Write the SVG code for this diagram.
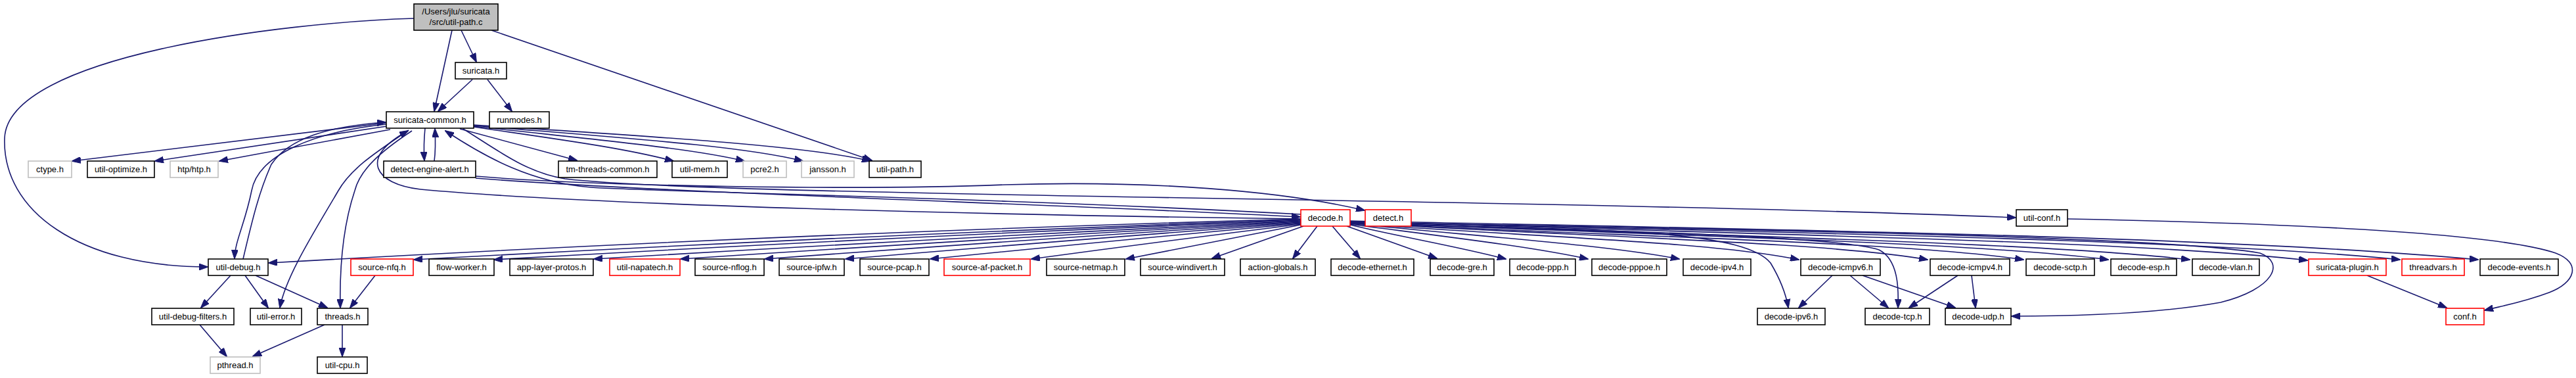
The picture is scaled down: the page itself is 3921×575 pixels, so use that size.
<svg xmlns="http://www.w3.org/2000/svg" width="3921" height="575" viewBox="0 0 3921 575">
<style>
.n rect{fill:#fff;stroke:#000;stroke-width:1.6}
.n.g rect{stroke:#bfbfbf}
.n.r rect{stroke:#ff0000}
.n.root rect{fill:#bfbfbf}
.n text{font-family:"Liberation Sans",Arial,sans-serif;font-size:13px;text-anchor:middle;fill:#000}
#edges path{fill:none;stroke:#191970;stroke-width:1.6;marker-end:url(#a)}
#edges path.nm{marker-end:none}
</style>
<defs>
<marker id="a" markerWidth="14" markerHeight="10" refX="13" refY="5" orient="auto" markerUnits="userSpaceOnUse"><path d="M0,0 L14,5 L0,10 z" fill="#191970" stroke="#191970" stroke-width="1"/></marker>
</defs>
<rect width="3921" height="575" fill="#fff"/>
<g id="edges">
<path d="M688,46 L661,169"/>
<path d="M702,46 L725,94"/>
<path d="M748,46 L1327,244"/>
<path d="M630,28 C430,34 12,85 7,210 C3,320 120,406 316,406"/>
<path d="M719,121 L667,169"/>
<path d="M742,121 L779,169"/>
<path d="M587,187 L110,245"/>
<path d="M589,192 L236,245"/>
<path d="M594,197 L334,245"/>
<path d="M647,195 C645,215 645,230 646,244"/>
<path d="M661,245 C663,230 663,215 662,196"/>
<path d="M700,196 L878,244"/>
<path d="M721,193 C850,212 950,225 1025,245"/>
<path d="M721,192 C900,212 1050,225 1133,245"/>
<path d="M721,191 C950,210 1130,222 1222,245"/>
<path d="M721,190 C1000,208 1230,222 1325,245"/>
<path d="M588,189 C480,200 393,235 383,290 C373,340 358,365 357,393"/>
<path d="M370,394 C385,330 395,290 413,250 C440,210 500,192 587,186"/>
<path d="M622,198 C575,230 535,255 515,290 C480,350 435,420 426,468"/>
<path d="M627,199 C580,230 548,258 540,290 C520,350 517,420 518,468"/>
<path d="M351,419 L306,468"/>
<path d="M373,419 L408,468"/>
<path d="M389,419 L498,468"/>
<path d="M571,419 L533,468"/>
<path d="M304,494 L345,542"/>
<path d="M494,494 L385,542"/>
<path d="M521,494 L521,542"/>
<path d="M724,268 C900,283 1300,290 1530,281 C1750,274 1950,290 2077,320"/>
<path d="M724,271 C1000,293 1600,310 1979,330"/>
<path d="M705,196 C760,230 800,262 860,272 C1100,300 2300,300 3068,331"/>
<path d="M1980,326 C1500,300 1000,292 900,285 C810,278 740,240 678,199"/>
<path d="M1980,333 C1500,327 900,312 640,288 C570,280 545,240 621,199"/>
<path d="M1980,333 Q1200,355 409,400"/>
<path d="M1980,334 Q1300,358 630,395"/>
<path d="M1980,335 Q1360,360 752,395"/>
<path d="M1980,336 Q1440,362 904,394"/>
<path d="M1980,337 Q1505,363 1036,394"/>
<path d="M1980,338 Q1570,364 1164,394"/>
<path d="M1980,339 Q1630,365 1287,394"/>
<path d="M1980,340 Q1695,366 1416,394"/>
<path d="M1980,341 Q1770,367 1570,394"/>
<path d="M1980,342 Q1845,368 1714,394"/>
<path d="M1984,344 L1845,393"/>
<path d="M2005,344 L1968,393"/>
<path d="M2028,344 L2070,393"/>
<path d="M2050,344 L2187,393"/>
<path d="M2055,342 C2130,360 2220,375 2292,394"/>
<path d="M2055,341 C2200,360 2330,375 2417,394"/>
<path d="M2055,340 C2255,360 2440,372 2556,394"/>
<path d="M2055,340 C2330,360 2610,368 2738,395"/>
<path d="M2055,339 C2410,360 2780,368 2934,395"/>
<path d="M2055,339 C2470,360 2900,368 3080,395"/>
<path d="M2055,338 C2520,358 3000,368 3209,395"/>
<path d="M2055,338 C2570,358 3100,368 3333,395"/>
<path d="M2055,337 C2640,356 3250,366 3512,396"/>
<path d="M2055,337 C2700,354 3350,364 3653,395"/>
<path d="M2055,336 C2740,350 3400,360 3772,395"/>
<path d="M2055,340 C2400,350 2650,345 2695,400 C2710,425 2718,445 2722,468"/>
<path d="M2055,339 C2500,352 2800,360 2860,380 C2890,395 2890,440 2889,468"/>
<path d="M2055,338 C2700,350 3300,360 3440,385 C3480,400 3460,440 3380,460 C3280,478 3150,481 3062,481"/>
<path d="M2789,419 L2738,468"/>
<path d="M2816,419 L2874,468"/>
<path d="M2835,419 L2976,468"/>
<path d="M2980,419 L2906,468"/>
<path d="M3001,419 L3007,468"/>
<path d="M3147,333 C3500,340 3800,355 3890,385 C3930,400 3920,430 3880,445 C3840,460 3810,465 3782,472"/>
<path d="M3603,419 L3724,468"/>
</g>
<g id="n_root" class="n root"><rect x="630" y="6" width="128" height="40"/><text x="694" y="21.5">/Users/jlu/suricata</text><text x="694" y="37.5">/src/util-path.c</text></g>
<g id="n_suricata" class="n"><rect x="693" y="95" width="78" height="25"/><text x="732" y="112">suricata.h</text></g>
<g id="n_suricata_common" class="n"><rect x="588" y="170" width="133" height="25"/><text x="654.5" y="187">suricata-common.h</text></g>
<g id="n_runmodes" class="n"><rect x="745" y="170" width="91" height="25"/><text x="790.5" y="187">runmodes.h</text></g>
<g id="n_ctype" class="n g"><rect x="43" y="245" width="66" height="25"/><text x="76" y="262">ctype.h</text></g>
<g id="n_util_optimize" class="n"><rect x="133" y="245" width="102" height="25"/><text x="184" y="262">util-optimize.h</text></g>
<g id="n_htp" class="n g"><rect x="259" y="245" width="73" height="25"/><text x="295.5" y="262">htp/htp.h</text></g>
<g id="n_detect_engine_alert" class="n"><rect x="584" y="245" width="140" height="25"/><text x="654" y="262">detect-engine-alert.h</text></g>
<g id="n_tm_threads_common" class="n"><rect x="850" y="245" width="150" height="25"/><text x="925" y="262">tm-threads-common.h</text></g>
<g id="n_util_mem" class="n"><rect x="1023" y="245" width="84" height="25"/><text x="1065" y="262">util-mem.h</text></g>
<g id="n_pcre2" class="n g"><rect x="1131" y="245" width="66" height="25"/><text x="1164" y="262">pcre2.h</text></g>
<g id="n_jansson" class="n g"><rect x="1220" y="245" width="80" height="25"/><text x="1260" y="262">jansson.h</text></g>
<g id="n_util_path" class="n"><rect x="1323" y="245" width="79" height="25"/><text x="1362.5" y="262">util-path.h</text></g>
<g id="n_decode" class="n r"><rect x="1980" y="319" width="75" height="25"/><text x="2017.5" y="336">decode.h</text></g>
<g id="n_detect" class="n r"><rect x="2078" y="319" width="70" height="25"/><text x="2113" y="336">detect.h</text></g>
<g id="n_util_conf" class="n"><rect x="3069" y="319" width="78" height="25"/><text x="3108" y="336">util-conf.h</text></g>
<g id="n_util_debug" class="n"><rect x="317" y="394" width="91" height="25"/><text x="362.5" y="411">util-debug.h</text></g>
<g id="n_source_nfq" class="n r"><rect x="534" y="394" width="95" height="25"/><text x="581.5" y="411">source-nfq.h</text></g>
<g id="n_flow_worker" class="n"><rect x="653" y="394" width="99" height="25"/><text x="702.5" y="411">flow-worker.h</text></g>
<g id="n_app_layer_protos" class="n"><rect x="776" y="394" width="127" height="25"/><text x="839.5" y="411">app-layer-protos.h</text></g>
<g id="n_util_napatech" class="n r"><rect x="928" y="394" width="107" height="25"/><text x="981.5" y="411">util-napatech.h</text></g>
<g id="n_source_nflog" class="n"><rect x="1058" y="394" width="105" height="25"/><text x="1110.5" y="411">source-nflog.h</text></g>
<g id="n_source_ipfw" class="n"><rect x="1186" y="394" width="99" height="25"/><text x="1235.5" y="411">source-ipfw.h</text></g>
<g id="n_source_pcap" class="n"><rect x="1309" y="394" width="105" height="25"/><text x="1361.5" y="411">source-pcap.h</text></g>
<g id="n_source_af_packet" class="n r"><rect x="1437" y="394" width="131" height="25"/><text x="1502.5" y="411">source-af-packet.h</text></g>
<g id="n_source_netmap" class="n"><rect x="1593" y="394" width="119" height="25"/><text x="1652.5" y="411">source-netmap.h</text></g>
<g id="n_source_windivert" class="n"><rect x="1736" y="394" width="128" height="25"/><text x="1800" y="411">source-windivert.h</text></g>
<g id="n_action_globals" class="n"><rect x="1888" y="394" width="114" height="25"/><text x="1945" y="411">action-globals.h</text></g>
<g id="n_decode_ethernet" class="n"><rect x="2026" y="394" width="126" height="25"/><text x="2089" y="411">decode-ethernet.h</text></g>
<g id="n_decode_gre" class="n"><rect x="2177" y="394" width="97" height="25"/><text x="2225.5" y="411">decode-gre.h</text></g>
<g id="n_decode_ppp" class="n"><rect x="2298" y="394" width="100" height="25"/><text x="2348" y="411">decode-ppp.h</text></g>
<g id="n_decode_pppoe" class="n"><rect x="2423" y="394" width="114" height="25"/><text x="2480" y="411">decode-pppoe.h</text></g>
<g id="n_decode_ipv4" class="n"><rect x="2562" y="394" width="103" height="25"/><text x="2613.5" y="411">decode-ipv4.h</text></g>
<g id="n_decode_icmpv6" class="n"><rect x="2741" y="394" width="121" height="25"/><text x="2801.5" y="411">decode-icmpv6.h</text></g>
<g id="n_decode_icmpv4" class="n"><rect x="2938" y="394" width="121" height="25"/><text x="2998.5" y="411">decode-icmpv4.h</text></g>
<g id="n_decode_sctp" class="n"><rect x="3084" y="394" width="104" height="25"/><text x="3136" y="411">decode-sctp.h</text></g>
<g id="n_decode_esp" class="n"><rect x="3213" y="394" width="100" height="25"/><text x="3263" y="411">decode-esp.h</text></g>
<g id="n_decode_vlan" class="n"><rect x="3337" y="394" width="102" height="25"/><text x="3388" y="411">decode-vlan.h</text></g>
<g id="n_suricata_plugin" class="n r"><rect x="3514" y="394" width="118" height="25"/><text x="3573" y="411">suricata-plugin.h</text></g>
<g id="n_threadvars" class="n r"><rect x="3656" y="394" width="95" height="25"/><text x="3703.5" y="411">threadvars.h</text></g>
<g id="n_decode_events" class="n"><rect x="3775" y="394" width="119" height="25"/><text x="3834.5" y="411">decode-events.h</text></g>
<g id="n_util_debug_filters" class="n"><rect x="231" y="469" width="125" height="25"/><text x="293.5" y="486">util-debug-filters.h</text></g>
<g id="n_util_error" class="n"><rect x="381" y="469" width="78" height="25"/><text x="420" y="486">util-error.h</text></g>
<g id="n_threads" class="n"><rect x="483" y="469" width="77" height="25"/><text x="521.5" y="486">threads.h</text></g>
<g id="n_decode_ipv6" class="n"><rect x="2675" y="469" width="103" height="25"/><text x="2726.5" y="486">decode-ipv6.h</text></g>
<g id="n_decode_tcp" class="n"><rect x="2839" y="469" width="98" height="25"/><text x="2888" y="486">decode-tcp.h</text></g>
<g id="n_decode_udp" class="n"><rect x="2961" y="469" width="100" height="25"/><text x="3011" y="486">decode-udp.h</text></g>
<g id="n_conf" class="n r"><rect x="3723" y="469" width="58" height="25"/><text x="3752" y="486">conf.h</text></g>
<g id="n_pthread" class="n g"><rect x="320" y="543" width="76" height="25"/><text x="358" y="560">pthread.h</text></g>
<g id="n_util_cpu" class="n"><rect x="483" y="543" width="76" height="25"/><text x="521" y="560">util-cpu.h</text></g>
</svg>
